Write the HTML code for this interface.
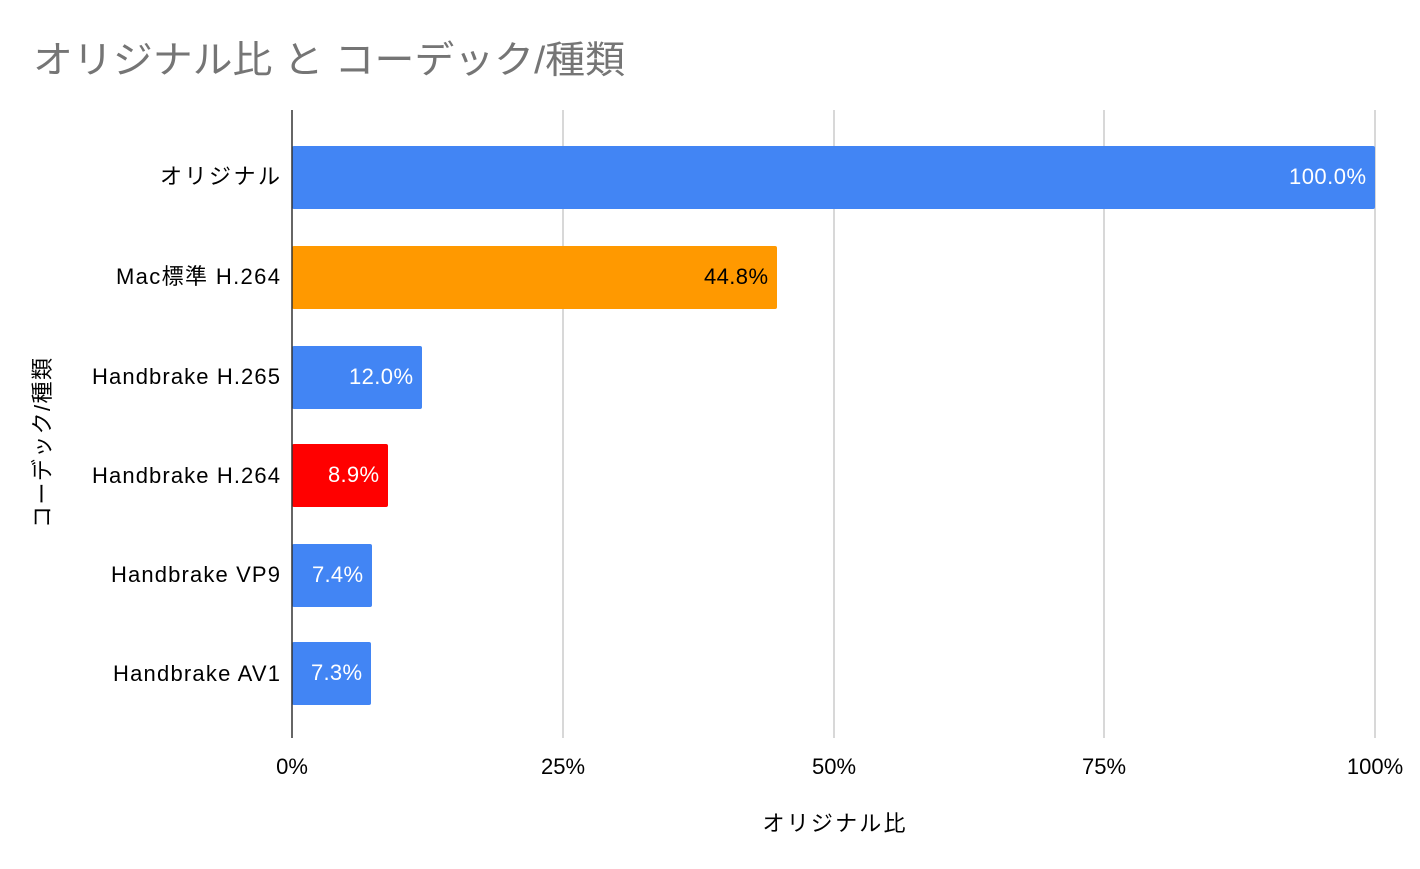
<!DOCTYPE html>
<html><head><meta charset="utf-8"><style>
body{margin:0;background:#fff;}
svg text{font-family:"Liberation Sans","Noto Sans CJK JP",sans-serif;}
</style></head><body>
<svg width="1420" height="864" xmlns="http://www.w3.org/2000/svg">
<rect width="1420" height="864" fill="#fff"/>
<text x="33" y="73" font-size="38" fill="#757575" textLength="592" lengthAdjust="spacingAndGlyphs">オリジナル比 と コーデック/種類</text>
<g stroke="#cccccc" stroke-width="1.5">
<line x1="563" y1="110" x2="563" y2="738"/>
<line x1="834" y1="110" x2="834" y2="738"/>
<line x1="1104" y1="110" x2="1104" y2="738"/>
<line x1="1375" y1="110" x2="1375" y2="738"/>
</g>
<rect x="292" y="146" width="1083" height="63" rx="2" fill="#4285f4"/>
<rect x="292" y="246" width="485" height="63" rx="2" fill="#ff9900"/>
<rect x="292" y="346" width="130" height="63" rx="2" fill="#4285f4"/>
<rect x="292" y="444" width="96" height="63" rx="2" fill="#ff0000"/>
<rect x="292" y="544" width="80" height="63" rx="2" fill="#4285f4"/>
<rect x="292" y="642" width="79" height="63" rx="2" fill="#4285f4"/>
<line x1="292" y1="110" x2="292" y2="738" stroke="#333" stroke-width="1.5"/>
<g font-size="22" text-anchor="end">
<text x="1366" y="184" fill="#fff" textLength="77">100.0%</text>
<text x="768" y="284" fill="#000" textLength="64">44.8%</text>
<text x="413" y="384" fill="#fff" textLength="64">12.0%</text>
<text x="379" y="482" fill="#fff" textLength="51">8.9%</text>
<text x="363" y="582" fill="#fff" textLength="51">7.4%</text>
<text x="362" y="680" fill="#fff" textLength="51">7.3%</text>
</g>
<g font-size="22" text-anchor="end" fill="#000">
<text x="280" y="184" textLength="120">オリジナル</text>
<text x="280" y="284" textLength="164">Mac標準 H.264</text>
<text x="280" y="384" textLength="188">Handbrake H.265</text>
<text x="280" y="483" textLength="188">Handbrake H.264</text>
<text x="280" y="582" textLength="169">Handbrake VP9</text>
<text x="280" y="681" textLength="167">Handbrake AV1</text>
</g>
<g font-size="22" text-anchor="middle" fill="#000">
<text x="292" y="774">0%</text>
<text x="563" y="774">25%</text>
<text x="834" y="774">50%</text>
<text x="1104" y="774">75%</text>
<text x="1375" y="774">100%</text>
<text x="834" y="831" textLength="143">オリジナル比</text>
</g>
<text transform="translate(50,443) rotate(-90)" font-size="22" text-anchor="middle" fill="#000" textLength="170">コーデック/種類</text>
</svg>
</body></html>
